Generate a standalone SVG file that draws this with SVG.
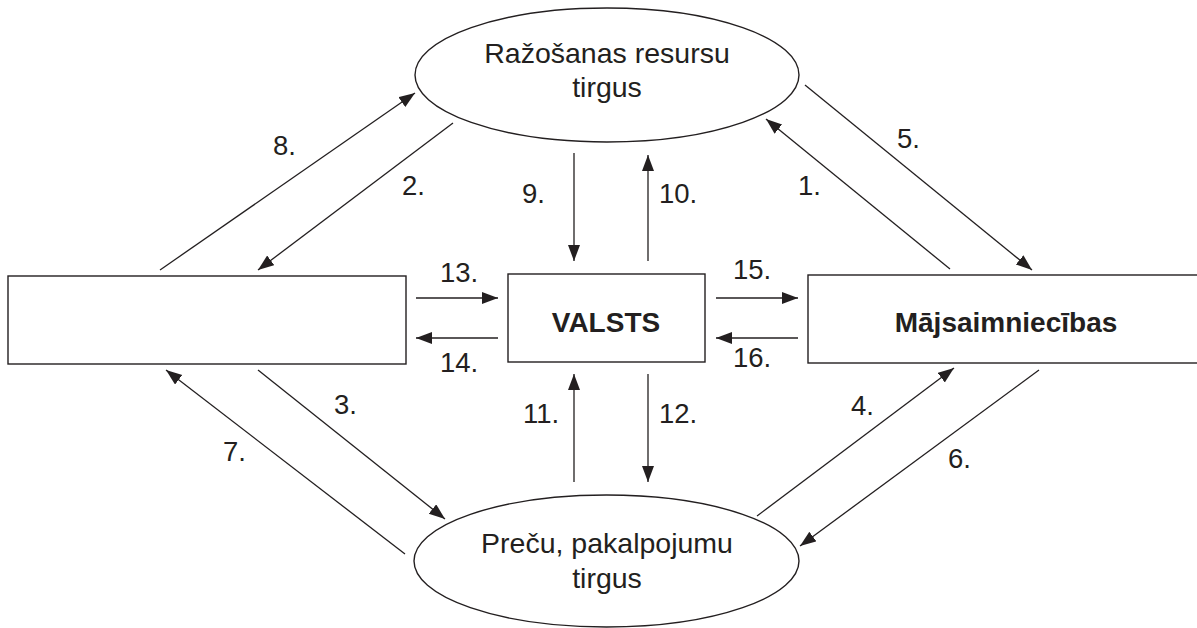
<svg xmlns="http://www.w3.org/2000/svg" width="1197" height="628" viewBox="0 0 1197 628">
<style>
.shape{fill:#fff;stroke:#231f20;stroke-width:1.4}
.ln{stroke:#231f20;stroke-width:1.3;fill:none;marker-end:url(#ah)}
text{font-family:"Liberation Sans",Arial,sans-serif;fill:#231f20}
.t{font-size:28.5px;text-anchor:middle}
.b{font-size:28px;font-weight:bold;text-anchor:middle}
.n{font-size:27.5px}
</style>
<defs>
<marker id="ah" markerUnits="userSpaceOnUse" markerWidth="17" markerHeight="13" refX="16" refY="6" orient="auto">
<path d="M0,0 L16,6 L0,12 Z" fill="#231f20"/>
</marker>
</defs>
<rect width="1197" height="628" fill="#fff"/>
<g id="node-resursu">
<ellipse class="shape" cx="607" cy="75" rx="192" ry="67"/>
<text class="t" x="607" y="63">Ražošanas resursu</text>
<text class="t" x="607" y="97">tirgus</text>
</g>
<g id="node-firmas">
<rect class="shape" x="8" y="276" width="398" height="88"/>
</g>
<g id="node-valsts">
<rect class="shape" x="508" y="274" width="197" height="88"/>
<text class="b" x="606" y="332">VALSTS</text>
</g>
<g id="node-majsaimniecibas">
<rect class="shape" x="808" y="275" width="400" height="88"/>
<text class="b" x="1006" y="332">Mājsaimniecības</text>
</g>
<g id="node-precu">
<ellipse class="shape" cx="606.5" cy="561" rx="192.5" ry="66"/>
<text class="t" x="607" y="553">Preču, pakalpojumu</text>
<text class="t" x="607" y="588">tirgus</text>
</g>
<g id="connectors">
<line class="ln" x1="950" y1="269" x2="766" y2="119"/>
<line class="ln" x1="453" y1="123" x2="258" y2="270"/>
<line class="ln" x1="258" y1="370" x2="445" y2="519"/>
<line class="ln" x1="757" y1="516" x2="954" y2="368"/>
<line class="ln" x1="805" y1="85" x2="1032" y2="270"/>
<line class="ln" x1="1039" y1="370" x2="800" y2="546"/>
<line class="ln" x1="405" y1="554" x2="166" y2="370"/>
<line class="ln" x1="160" y1="270" x2="415" y2="93"/>
<line class="ln" x1="574" y1="153" x2="574" y2="261"/>
<line class="ln" x1="648" y1="261" x2="648" y2="155"/>
<line class="ln" x1="574" y1="482" x2="574" y2="374"/>
<line class="ln" x1="648" y1="374" x2="648" y2="482"/>
<line class="ln" x1="416" y1="298" x2="498" y2="298"/>
<line class="ln" x1="498" y1="338" x2="416" y2="338"/>
<line class="ln" x1="716" y1="298" x2="798" y2="298"/>
<line class="ln" x1="798" y1="338" x2="716" y2="338"/>
</g>
<g id="labels">
<text class="n" x="798" y="195">1.</text>
<text class="n" x="402" y="195">2.</text>
<text class="n" x="334" y="414">3.</text>
<text class="n" x="851" y="415">4.</text>
<text class="n" x="897" y="148">5.</text>
<text class="n" x="948" y="468">6.</text>
<text class="n" x="223" y="461">7.</text>
<text class="n" x="273" y="155">8.</text>
<text class="n" x="522" y="203">9.</text>
<text class="n" x="659" y="203">10.</text>
<text class="n" x="523" y="423">11.</text>
<text class="n" x="659" y="423">12.</text>
<text class="n" x="440" y="282">13.</text>
<text class="n" x="440" y="372">14.</text>
<text class="n" x="733" y="279">15.</text>
<text class="n" x="733" y="367">16.</text>
</g>
</svg>
